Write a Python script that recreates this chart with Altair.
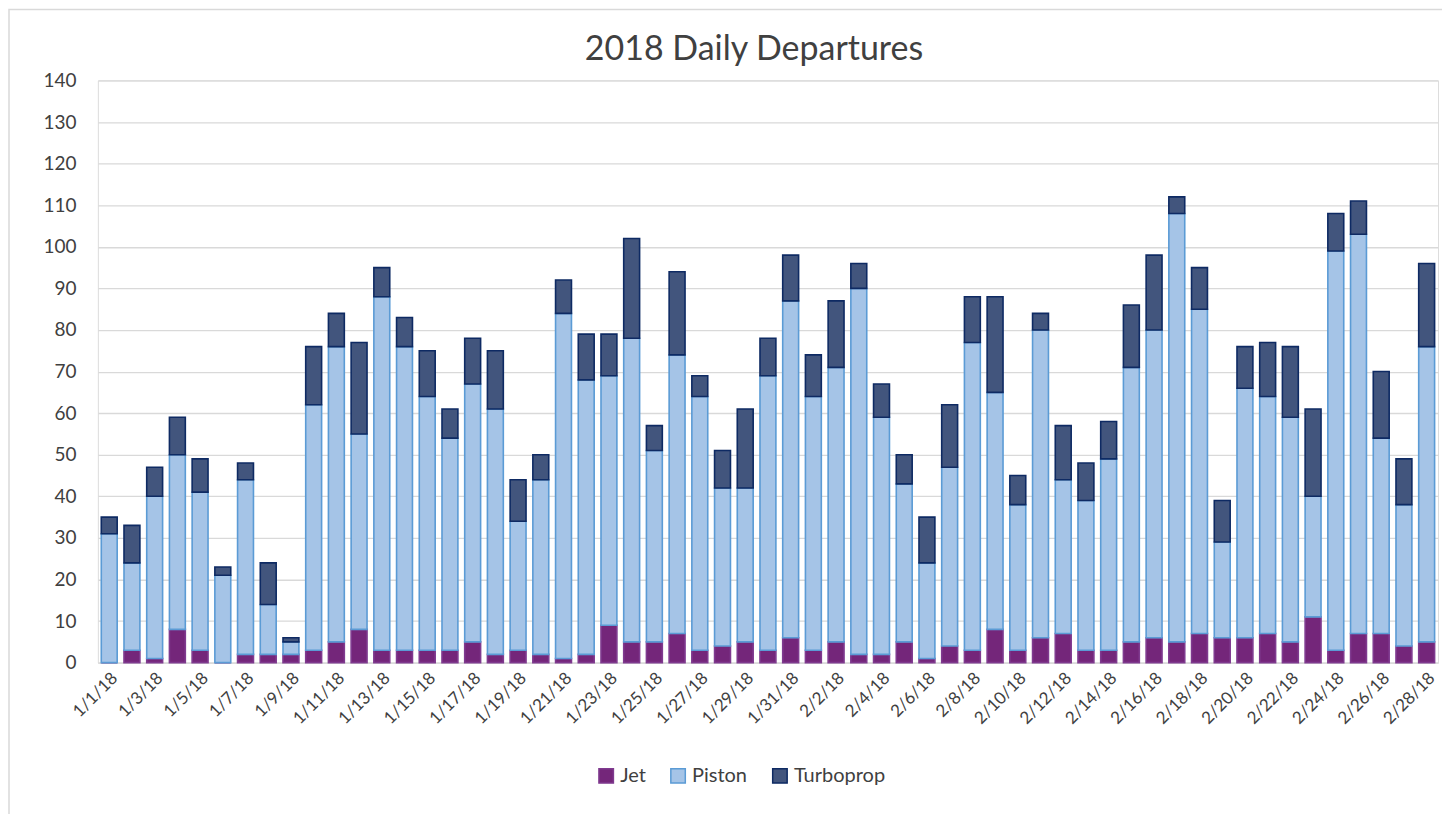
import altair as alt
import pandas as pd

dates = [f"1/{d}/18" for d in range(1, 32)] + [f"2/{d}/18" for d in range(1, 29)]

jet = [0, 3, 1, 8, 3, 0, 2, 2, 2, 3, 5, 8, 3, 3, 3, 3, 5, 2, 3, 2, 1, 2, 9, 5, 5, 7, 3, 4, 5, 3, 6,
       3, 5, 2, 2, 5, 1, 4, 3, 8, 3, 6, 7, 3, 3, 5, 6, 5, 7, 6, 6, 7, 5, 11, 3, 7, 7, 4, 5]
piston = [31, 21, 39, 42, 38, 21, 42, 12, 3, 59, 71, 47, 85, 73, 61, 51, 62, 59, 31, 42, 83, 66, 60, 73, 46, 67, 61, 38, 37, 66, 81,
          61, 66, 88, 57, 38, 23, 43, 74, 57, 35, 74, 37, 36, 46, 66, 74, 103, 78, 23, 60, 57, 54, 29, 96, 96, 47, 34, 71]
turboprop = [4, 9, 7, 9, 8, 2, 4, 10, 1, 14, 8, 22, 7, 7, 11, 7, 11, 14, 10, 6, 8, 11, 10, 24, 6, 20, 5, 9, 19, 9, 11,
             10, 16, 6, 8, 7, 11, 15, 11, 23, 7, 4, 13, 9, 9, 15, 18, 4, 10, 10, 10, 13, 17, 21, 9, 8, 16, 11, 20]

series = ["Jet", "Piston", "Turboprop"]
fills = ["#74267a", "#a5c4e7", "#42557d"]
strokes = ["#7f3a8f", "#5b9bd5", "#0e2a63"]
label_dates = dates[::2]

rows = []
for i, d in enumerate(dates):
    for k, (name, vals) in enumerate(zip(series, [jet, piston, turboprop])):
        rows.append({"date": d, "type": name, "count": vals[i], "ord": k})
df = pd.DataFrame(rows)

FONT = "Lato"

bars = alt.Chart(df).mark_bar(strokeWidth=1.6).encode(
    x=alt.X("date:N", sort=dates, title=None,
            scale=alt.Scale(paddingInner=0.3, paddingOuter=0.15),
            axis=alt.Axis(values=label_dates, labelAngle=-45, labelFontSize=17,
                          labelColor="#404040", labelFont=FONT, ticks=False,
                          domainColor="#d9d9d9", labelPadding=7, labelOverlap=False)),
    y=alt.Y("count:Q", stack="zero", title=None,
            scale=alt.Scale(domain=[0, 140], nice=False),
            axis=alt.Axis(values=list(range(0, 141, 10)), labelFontSize=19, labelColor="#404040",
                          labelFont=FONT, ticks=False, domain=False, gridColor="#d9d9d9",
                          gridWidth=1.3, labelPadding=22)),
    fill=alt.Fill("type:N", sort=series, title=None,
                  scale=alt.Scale(domain=series, range=fills),
                  legend=alt.Legend(orient="none", direction="horizontal", legendX=499, legendY=686,
                                    labelFontSize=20, labelColor="#404040", labelFont=FONT,
                                    symbolType="square", symbolSize=210, symbolStrokeWidth=1.5,
                                    columnPadding=21, labelOffset=4)),
    stroke=alt.Stroke("type:N", sort=series, title=None,
                      scale=alt.Scale(domain=series, range=strokes)),
    order=alt.Order("ord:Q"),
    tooltip=["date", "type", "count"],
)

frame = alt.Chart(pd.DataFrame({"f": [0]})).mark_rect(
    fill="transparent", stroke="#d9d9d9", strokeWidth=1.5
).encode(
    x=alt.value(-89), x2=alt.value(1400), y=alt.value(-71), y2=alt.value(900)
)

chart = alt.layer(frame, bars).properties(
    width=1342, height=583,
    title=alt.TitleParams("2018 Daily Departures", fontSize=34, font=FONT, fontWeight="normal",
                          color="#404040", offset=-58, dx=-14),
    autosize=alt.AutoSizeParams(type="none"),
    padding={"left": 90, "top": 72, "right": 4, "bottom": 152},
).configure_view(stroke=None).configure(background="white")

chart.save("out.html", embed_options={"renderer": "svg", "actions": False})
